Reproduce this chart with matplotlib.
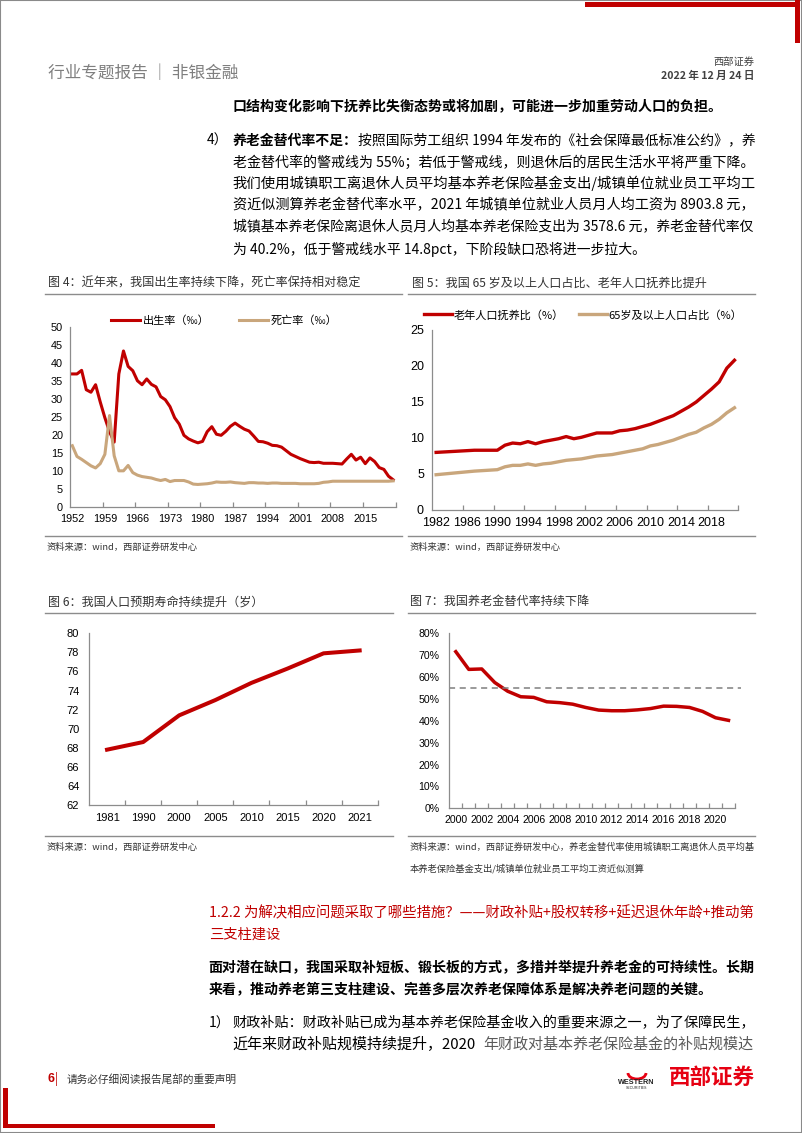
import matplotlib
matplotlib.use('Agg')
import numpy as np
import matplotlib.pyplot as plt
from matplotlib.patches import Rectangle, Arc
from matplotlib.lines import Line2D
from matplotlib.ticker import FuncFormatter

CJK = ['Noto Sans CJK SC', 'DejaVu Sans']
NUM = ['Liberation Sans', 'DejaVu Sans']
plt.rcParams['font.family'] = CJK

RED = '#C00000'
TAN = '#C9A67C'
AXC = '#8C8C8C'

# ---- data ----
# fig 4: birth / death rate (per mille), 1952-2021
years4 = list(range(1952, 2022))
birth = [37.0, 37.0, 38.0, 32.6, 31.9, 34.0, 29.2, 24.8, 20.9, 18.0,
         37.0, 43.4, 39.1, 37.9, 35.1, 34.0, 35.6, 34.1, 33.4, 30.7,
         29.8, 27.9, 24.8, 23.0, 19.9, 18.9, 18.3, 17.8, 18.2, 20.9,
         22.3, 20.2, 19.9, 21.0, 22.4, 23.3, 22.4, 21.6, 21.1, 19.7,
         18.2, 18.1, 17.7, 17.1, 17.0, 16.6, 15.6, 14.6, 14.0, 13.4,
         12.9, 12.4, 12.3, 12.4, 12.1, 12.1, 12.1, 12.0, 11.9, 13.3,
         14.6, 13.0, 13.8, 12.0, 13.6, 12.6, 10.9, 10.4, 8.5, 7.5]
death = [17.0, 14.0, 13.2, 12.3, 11.4, 10.8, 12.0, 14.6, 25.4, 14.2,
         10.0, 10.0, 11.5, 9.5, 8.8, 8.4, 8.2, 8.0, 7.6, 7.3,
         7.6, 7.0, 7.3, 7.3, 7.3, 6.9, 6.3, 6.2, 6.3, 6.4,
         6.6, 6.9, 6.8, 6.8, 6.9, 6.7, 6.6, 6.5, 6.7, 6.7,
         6.6, 6.6, 6.5, 6.6, 6.6, 6.5, 6.5, 6.5, 6.5, 6.4,
         6.4, 6.4, 6.4, 6.5, 6.8, 6.9, 7.1, 7.1, 7.1, 7.1,
         7.1, 7.1, 7.1, 7.1, 7.1, 7.1, 7.1, 7.1, 7.1, 7.2]

# fig 5: old-age dependency ratio and 65+ share (%)
years5 = [1982, 1987] + list(range(1990, 2022))
dependency = [8.0, 8.3, 8.3, 9.0, 9.3, 9.2, 9.5, 9.2, 9.5, 9.7, 9.9, 10.2,
              9.9, 10.1, 10.4, 10.7, 10.7, 10.7, 11.0, 11.1, 11.3, 11.6,
              11.9, 12.3, 12.7, 13.1, 13.7, 14.3, 15.0, 15.9, 16.8, 17.8,
              19.7, 20.8]
share65 = [4.9, 5.4, 5.6, 6.0, 6.2, 6.2, 6.4, 6.2, 6.4, 6.5, 6.7, 6.9,
           7.0, 7.1, 7.3, 7.5, 7.6, 7.7, 7.9, 8.1, 8.3, 8.5, 8.9, 9.1,
           9.4, 9.7, 10.1, 10.5, 10.8, 11.4, 11.9, 12.6, 13.5, 14.2]

# fig 6: life expectancy (years)
years6 = ['1981', '1990', '2000', '2005', '2010', '2015', '2020', '2021']
life = [67.8, 68.6, 71.4, 73.0, 74.8, 76.3, 77.9, 78.2]

# fig 7: pension replacement rate (%)
years7 = list(range(2000, 2022))
replace = [71.6, 63.5, 63.7, 57.5, 53.5, 51.0, 50.7, 48.7, 48.3, 47.6, 46.1,
           44.9, 44.6, 44.6, 45.0, 45.6, 46.7, 46.6, 46.1, 44.3, 41.4, 40.2]
warning = 55

# ---- page ----
W, H = 802, 1133
fig = plt.figure(figsize=(W / 100, H / 100), dpi=100)


def fx(x):
    return x / W


def fy(y):
    return 1 - y / H


def add_ax(l, t, r, b):
    return fig.add_axes([l / W, 1 - b / H, (r - l) / W, (b - t) / H])


def txt(x, y, s, size, color='#000000', weight='normal', ha='left', family=CJK):
    return fig.text(fx(x), fy(y), s, fontsize=size, color=color, fontweight=weight,
                    ha=ha, va='center', family=family)


def hline(x0, x1, y, color='#8C8C8C', lw=1.0):
    fig.add_artist(Line2D([fx(x0), fx(x1)], [fy(y), fy(y)], color=color, lw=lw))


def box(x0, y0, x1, y1, color):
    fig.add_artist(Rectangle((fx(x0), fy(y1)), (x1 - x0) / W, (y1 - y0) / H,
                             transform=fig.transFigure, color=color, lw=0))


def style(ax, xfs, yfs, xpad, ypad):
    for s in ['top', 'right']:
        ax.spines[s].set_visible(False)
    for s in ['left', 'bottom']:
        ax.spines[s].set_color(AXC)
        ax.spines[s].set_linewidth(0.9)
    ax.set_facecolor('none')
    ax.tick_params(axis='y', length=0, pad=ypad, labelsize=yfs, labelcolor='#000000')
    ax.tick_params(axis='x', which='major', length=0, pad=xpad, labelsize=xfs,
                   labelcolor='#000000')
    ax.tick_params(axis='x', which='minor', direction='in', length=3.5,
                   color=AXC, width=0.9)
    for lab in ax.get_xticklabels() + ax.get_yticklabels():
        lab.set_family(NUM)


# page border and red corner marks
fig.add_artist(Rectangle((0, 0), 1, 1, transform=fig.transFigure, fill=False,
                         edgecolor='#8A8A8A', lw=1.5))
box(585, 2.5, 800, 7, '#C00000')
box(794.5, 0, 800, 43, '#C00000')
box(2.5, 1088, 7.5, 1128, '#C00000')
box(2.5, 1123.5, 215, 1128, '#C00000')

# header
txt(48, 73.5, '行业专题报告 │ 非银金融', 12, color='#7F7F7F')
txt(754, 62, '西部证券', 7.4, color='#404040', ha='right')
txt(754, 76, '2022 年 12 月 24 日', 7.6, color='#404040', ha='right', weight='bold')

# lines to stretch to a right edge: (text, right edge px)
jobs = []
R = 754.5

# body text top
jobs.append((txt(232.7, 107.5, '口结构变化影响下抚养比失衡态势或将加剧，可能进一步加重劳动人口的负担。', 10, weight='bold'), 721))
txt(207, 140.5, '4）', 10)
txt(232.7, 140.5, '养老金替代率不足：', 10, weight='bold')
jobs.append((txt(358, 140.5, '按照国际劳工组织 1994 年发布的《社会保障最低标准公约》，养', 10), R))
jobs.append((txt(232.7, 162.3, '老金替代率的警戒线为 55%；若低于警戒线，则退休后的居民生活水平将严重下降。', 10), R))
jobs.append((txt(232.7, 183.5, '我们使用城镇职工离退休人员平均基本养老保险基金支出/城镇单位就业员工平均工', 10), R))
jobs.append((txt(232.7, 205, '资近似测算养老金替代率水平，2021 年城镇单位就业人员月人均工资为 8903.8 元，', 10), R))
jobs.append((txt(232.7, 227, '城镇基本养老保险离退休人员月人均基本养老保险支出为 3578.6 元，养老金替代率仅', 10), R))
jobs.append((txt(232.7, 249.3, '为 40.2%，低于警戒线水平 14.8pct，下阶段缺口恐将进一步拉大。', 10), 645.5))

# figure titles / rules
txt(48, 283.3, '图 4：近年来，我国出生率持续下降，死亡率保持相对稳定', 8.7, color='#333333')
txt(411.5, 283.3, '图 5：我国 65 岁及以上人口占比、老年人口抚养比提升', 8.7, color='#333333')
hline(45, 402, 294)
hline(408, 755, 294)
hline(45, 402, 535.7)
hline(408, 755, 535.7)
txt(47, 547, '资料来源：wind，西部证券研发中心', 6.7, color='#333333')
txt(410, 547, '资料来源：wind，西部证券研发中心', 6.7, color='#333333')

txt(48, 601.7, '图 6：我国人口预期寿命持续提升（岁）', 8.7, color='#333333')
txt(410, 601.7, '图 7：我国养老金替代率持续下降', 8.7, color='#333333')
hline(45, 392.7, 612.7)
hline(408, 755, 612.7)
hline(45, 392.7, 836)
hline(408, 755, 836)
txt(47, 847, '资料来源：wind，西部证券研发中心', 6.7, color='#333333')
jobs.append((txt(410, 847, '资料来源：wind，西部证券研发中心，养老金替代率使用城镇职工离退休人员平均基', 6.7, color='#333333'), 753))
jobs.append((txt(410, 868.5, '本养老保险基金支出/城镇单位就业员工平均工资近似测算', 6.7, color='#333333'), 645.5))

# ---- fig 4 ----
ax4 = add_ax(70, 327.3, 395.5, 506.7)
ax4.plot(years4, birth, color=RED, lw=2.2, label='出生率（‰）')
ax4.plot(years4, death, color=TAN, lw=2.2, label='死亡率（‰）')
ax4.set_xlim(years4[0] - 0.5, years4[-1] + 0.5)
ax4.set_ylim(0, 50)
ax4.set_yticks(range(0, 51, 5))
ax4.set_xticks(years4[::7])
ax4.set_xticks(np.arange(years4[0] + 6.5, years4[-1] + 0.6, 7), minor=True)
style(ax4, 7.8, 7.8, 5, 5)
ax4.legend(loc='center left', bbox_to_anchor=(fx(111), fy(320.7)), bbox_transform=fig.transFigure,
           ncol=2, frameon=False, fontsize=8, handlelength=2.6, handletextpad=0.3,
           columnspacing=2.6, borderpad=0, borderaxespad=0)

# ---- fig 5 ----
ax5 = add_ax(432.3, 330, 738.3, 510)
ax5.plot(years5, dependency, color=RED, lw=2.4, label='老年人口抚养比（%）')
ax5.plot(years5, share65, color=TAN, lw=2.4, label='65岁及以上人口占比（%）')
ax5.set_xlim(1981.5, 2021.5)
ax5.set_ylim(0, 25)
ax5.set_yticks(range(0, 26, 5))
ax5.set_xticks(range(1982, 2019, 4))
ax5.set_xticks(np.arange(1985.5, 2021.6, 4), minor=True)
style(ax5, 9, 9, 5, 6)
ax5.legend(loc='center left', bbox_to_anchor=(fx(424), fy(315)), bbox_transform=fig.transFigure,
           ncol=2, frameon=False, fontsize=8, handlelength=2.5, handletextpad=0.15,
           columnspacing=1.4, borderpad=0, borderaxespad=0)

# ---- fig 6 ----
ax6 = add_ax(89, 633.3, 377.7, 805)
pos6 = np.arange(len(years6))
ax6.plot(pos6, life, color=RED, lw=2.9)
ax6.set_xlim(-0.5, len(years6) - 0.5)
ax6.set_ylim(62, 80)
ax6.set_yticks(range(62, 81, 2))
ax6.set_xticks(pos6)
ax6.set_xticklabels(years6)
ax6.set_xticks(pos6 + 0.5, minor=True)
style(ax6, 8, 8, 6, 7)

# ---- fig 7 ----
ax7 = add_ax(449.3, 633.3, 735, 808.3)
ax7.plot(years7, replace, color=RED, lw=2.5)
ax7.axhline(warning, xmin=0, xmax=1.02, color='#7F7F7F', lw=1.1, ls=(0, (4, 3)), clip_on=False)
ax7.set_xlim(years7[0] - 0.5, years7[-1] + 0.5)
ax7.set_ylim(0, 80)
ax7.set_yticks(range(0, 81, 10))
ax7.yaxis.set_major_formatter(FuncFormatter(lambda v, p: '%d%%' % v))
ax7.set_xticks(years7[:21:2])
ax7.set_xticks(np.arange(years7[0] + 0.5, years7[-1] + 0.6, 1), minor=True)
style(ax7, 7.6, 7.6, 5, 7)

# ---- lower body ----
jobs.append((txt(208.7, 913.3, '1.2.2 为解决相应问题采取了哪些措施？——财政补贴+股权转移+延迟退休年龄+推动第',
                 10.3, color=RED), R))
txt(208.7, 935, '三支柱建设', 10.3, color=RED)
jobs.append((txt(208.7, 968.3, '面对潜在缺口，我国采取补短板、锻长板的方式，多措并举提升养老金的可持续性。长期',
                 10, weight='bold'), R))
jobs.append((txt(208.7, 990, '来看，推动养老第三支柱建设、完善多层次养老保障体系是解决养老问题的关键。', 10, weight='bold'), 711))
txt(208.7, 1023.3, '1）', 10)
jobs.append((txt(232.7, 1023.3, '财政补贴：财政补贴已成为基本养老保险基金收入的重要来源之一，为了保障民生，', 10), R))
jobs.append((txt(232.7, 1044.3, '近年来财政补贴规模持续提升，2020', 10), 476))
jobs.append((txt(483.4, 1044.3, '年财政对基本养老保险基金的补贴规模达', 10, color='#5A5A5A'), R))

# footer
txt(47, 1079, '6', 9, color=RED, weight='bold', family=NUM)
txt(55, 1079, '|', 9, color=RED)
txt(66.5, 1079, '请务必仔细阅读报告尾部的重要声明', 7.7, color='#333333')
txt(711.5, 1077, '西部证券', 15.5, color='#E60012', weight='bold', ha='center')
txt(636.5, 1082.5, 'WESTERN', 5.2, color='#222222', weight='bold', ha='center', family=NUM)
txt(636.5, 1088, 'SECURITIES', 2.6, color='#222222', ha='center', family=NUM)
fig.add_artist(Arc((fx(637), fy(1073)), 18 / W, 12 / H, theta1=180, theta2=360,
                   transform=fig.transFigure, color='#E60012', lw=2))

# stretch lines to their right edges
renderer = fig.canvas.get_renderer()
for t, right in jobs:
    bb = t.get_window_extent(renderer)
    t.set_fontsize(t.get_fontsize() * (right - bb.x0) / bb.width)

fig.savefig('out.png', dpi=100)
